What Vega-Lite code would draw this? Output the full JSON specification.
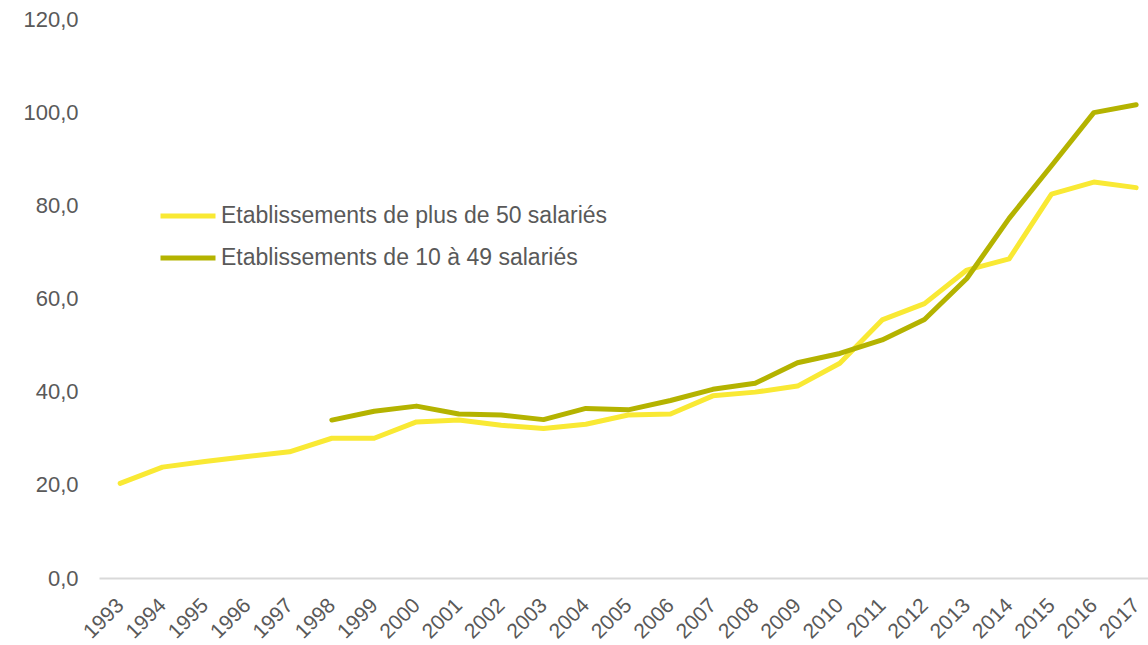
{
  "$schema": "https://vega.github.io/schema/vega-lite/v6.json",
  "autosize": {"type": "none"},
  "padding": {"left": 99, "top": 19, "right": 0, "bottom": 67},
  "width": 1049,
  "height": 559,
  "background": "white",
  "config": {
    "view": {"stroke": null},
    "font": "Liberation Sans",
    "axis": {"labelFont": "Liberation Sans", "labelColor": "#595959", "labelFontSize": 22}
  },
  "data": {
    "values": [
      {"year": 1993, "serie": "Etablissements de plus de 50 salariés", "value": 20.3},
      {"year": 1994, "serie": "Etablissements de plus de 50 salariés", "value": 23.8},
      {"year": 1995, "serie": "Etablissements de plus de 50 salariés", "value": 25.0},
      {"year": 1996, "serie": "Etablissements de plus de 50 salariés", "value": 26.1},
      {"year": 1997, "serie": "Etablissements de plus de 50 salariés", "value": 27.1},
      {"year": 1998, "serie": "Etablissements de plus de 50 salariés", "value": 30.0},
      {"year": 1999, "serie": "Etablissements de plus de 50 salariés", "value": 30.0},
      {"year": 2000, "serie": "Etablissements de plus de 50 salariés", "value": 33.5},
      {"year": 2001, "serie": "Etablissements de plus de 50 salariés", "value": 33.9},
      {"year": 2002, "serie": "Etablissements de plus de 50 salariés", "value": 32.8},
      {"year": 2003, "serie": "Etablissements de plus de 50 salariés", "value": 32.1},
      {"year": 2004, "serie": "Etablissements de plus de 50 salariés", "value": 33.0},
      {"year": 2005, "serie": "Etablissements de plus de 50 salariés", "value": 35.0},
      {"year": 2006, "serie": "Etablissements de plus de 50 salariés", "value": 35.2},
      {"year": 2007, "serie": "Etablissements de plus de 50 salariés", "value": 39.1},
      {"year": 2008, "serie": "Etablissements de plus de 50 salariés", "value": 39.9},
      {"year": 2009, "serie": "Etablissements de plus de 50 salariés", "value": 41.2},
      {"year": 2010, "serie": "Etablissements de plus de 50 salariés", "value": 46.1},
      {"year": 2011, "serie": "Etablissements de plus de 50 salariés", "value": 55.4},
      {"year": 2012, "serie": "Etablissements de plus de 50 salariés", "value": 58.9},
      {"year": 2013, "serie": "Etablissements de plus de 50 salariés", "value": 66.1},
      {"year": 2014, "serie": "Etablissements de plus de 50 salariés", "value": 68.5},
      {"year": 2015, "serie": "Etablissements de plus de 50 salariés", "value": 82.4},
      {"year": 2016, "serie": "Etablissements de plus de 50 salariés", "value": 85.0},
      {"year": 2017, "serie": "Etablissements de plus de 50 salariés", "value": 83.8},
      {"year": 1998, "serie": "Etablissements de 10 à 49 salariés", "value": 33.9},
      {"year": 1999, "serie": "Etablissements de 10 à 49 salariés", "value": 35.8},
      {"year": 2000, "serie": "Etablissements de 10 à 49 salariés", "value": 36.9},
      {"year": 2001, "serie": "Etablissements de 10 à 49 salariés", "value": 35.2},
      {"year": 2002, "serie": "Etablissements de 10 à 49 salariés", "value": 35.0},
      {"year": 2003, "serie": "Etablissements de 10 à 49 salariés", "value": 34.0},
      {"year": 2004, "serie": "Etablissements de 10 à 49 salariés", "value": 36.4},
      {"year": 2005, "serie": "Etablissements de 10 à 49 salariés", "value": 36.1},
      {"year": 2006, "serie": "Etablissements de 10 à 49 salariés", "value": 38.1},
      {"year": 2007, "serie": "Etablissements de 10 à 49 salariés", "value": 40.5},
      {"year": 2008, "serie": "Etablissements de 10 à 49 salariés", "value": 41.8},
      {"year": 2009, "serie": "Etablissements de 10 à 49 salariés", "value": 46.2},
      {"year": 2010, "serie": "Etablissements de 10 à 49 salariés", "value": 48.2},
      {"year": 2011, "serie": "Etablissements de 10 à 49 salariés", "value": 51.1},
      {"year": 2012, "serie": "Etablissements de 10 à 49 salariés", "value": 55.5},
      {"year": 2013, "serie": "Etablissements de 10 à 49 salariés", "value": 64.3},
      {"year": 2014, "serie": "Etablissements de 10 à 49 salariés", "value": 77.2},
      {"year": 2015, "serie": "Etablissements de 10 à 49 salariés", "value": 88.5},
      {"year": 2016, "serie": "Etablissements de 10 à 49 salariés", "value": 99.9},
      {"year": 2017, "serie": "Etablissements de 10 à 49 salariés", "value": 101.6}
    ]
  },
  "mark": {"type": "line", "strokeWidth": 5, "strokeCap": "round", "strokeJoin": "round"},
  "encoding": {
    "x": {
      "field": "year",
      "type": "quantitative",
      "scale": {"domain": [1992.5, 2017.28], "nice": false, "zero": false},
      "axis": {
        "title": null,
        "values": [1993,1994,1995,1996,1997,1998,1999,2000,2001,2002,2003,2004,2005,2006,2007,2008,2009,2010,2011,2012,2013,2014,2015,2016,2017],
        "format": "d",
        "labelAngle": -45,
        "labelAlign": "right",
        "labelBaseline": "middle",
        "labelPadding": 24,
        "labelFontSize": 21,
        "ticks": false,
        "grid": false,
        "domainColor": "#d9d9d9",
        "domainWidth": 2,
        "labelFlush": false,
        "labelOverlap": false,
        "labelBound": false
      }
    },
    "y": {
      "field": "value",
      "type": "quantitative",
      "scale": {"domain": [0, 120], "nice": false},
      "axis": {
        "title": null,
        "values": [0, 20, 40, 60, 80, 100, 120],
        "labelExpr": "replace(format(datum.value, '.1f'), '.', ',')",
        "domain": false,
        "ticks": false,
        "grid": false,
        "labelPadding": 21
      }
    },
    "color": {
      "field": "serie",
      "type": "nominal",
      "scale": {
        "domain": ["Etablissements de plus de 50 salariés", "Etablissements de 10 à 49 salariés"],
        "range": ["#f9e934", "#b4b300"]
      },
      "legend": {
        "title": null,
        "orient": "none",
        "legendX": 59,
        "legendY": 167,
        "padding": 0,
        "symbolType": "stroke",
        "symbolStrokeWidth": 5,
        "symbolSize": 3025,
        "labelFontSize": 23,
        "labelLimit": 0,
        "labelColor": "#595959",
        "labelFont": "Liberation Sans",
        "labelOffset": 3,
        "rowPadding": 0
      }
    }
  }
}
